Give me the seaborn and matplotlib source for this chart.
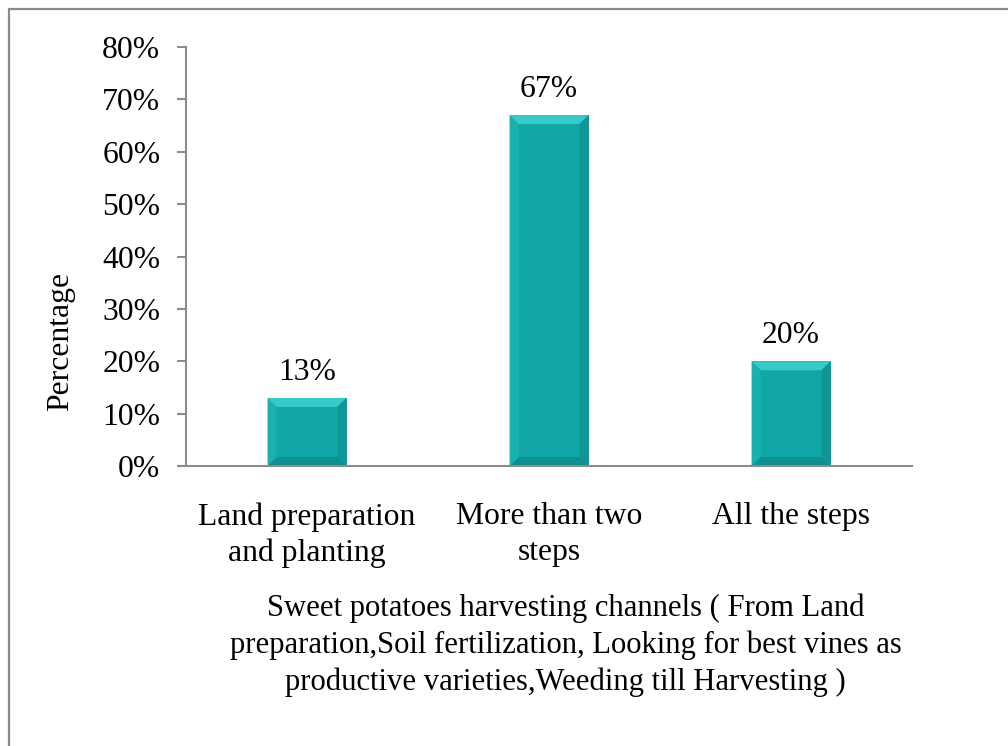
import matplotlib
matplotlib.use("Agg")
import matplotlib.pyplot as plt
import seaborn as sns
import pandas as pd
from matplotlib.lines import Line2D
from matplotlib.patches import Polygon
from matplotlib.ticker import FuncFormatter

categories = ["Land preparation\nand planting", "More than two\nsteps", "All the steps"]
values = [13, 67, 20]
value_labels = ["13%", "67%", "20%"]
y_ticks = [0, 10, 20, 30, 40, 50, 60, 70, 80]

sns.set_theme(style="white")
plt.rcParams["font.family"] = ["Liberation Serif", "DejaVu Serif"]

FS = 22.8

df = pd.DataFrame({"category": categories, "value": values})

fig = plt.figure(figsize=(10.08, 7.46), dpi=100)
ax = fig.add_axes([0.1845, 0.3753, 0.9048 - 0.1845, 0.937 - 0.3753])

face = "#12A7A7"
sns.barplot(data=df, x="category", y="value", color=face, width=0.326,
            saturation=1, ax=ax, edgecolor="#0E8C8C", linewidth=0.6)

ax.set_ylim(0, 80)
ax.set_xlim(-0.5, 2.5)
ax.set_yticks(y_ticks)
ax.yaxis.set_major_formatter(FuncFormatter(lambda v, _: f"{int(v)}%"))

# bevelled bar faces
fig.canvas.draw()
to_data = ax.transData.inverted()
bevel = 9  # pixels
for p in list(ax.patches):
    x0, y0 = p.get_x(), p.get_y()
    x1, y1 = x0 + p.get_width(), y0 + p.get_height()
    (px0, py0) = ax.transData.transform((x0, y0))
    (px1, py1) = ax.transData.transform((x1, y1))
    inner = [(px0 + bevel, py1 - bevel), (px1 - bevel, py1 - bevel),
             (px1 - bevel, py0 + bevel), (px0 + bevel, py0 + bevel)]
    outer = [(px0, py1), (px1, py1), (px1, py0), (px0, py0)]
    faces = [
        ([outer[0], outer[1], inner[1], inner[0]], "#38CACA"),  # top
        ([outer[1], outer[2], inner[2], inner[1]], "#0F9696"),  # right
        ([outer[2], outer[3], inner[3], inner[2]], "#0E9090"),  # bottom
        ([outer[3], outer[0], inner[0], inner[3]], "#19B0B0"),  # left
    ]
    for pts, col in faces:
        poly = Polygon(to_data.transform(pts), closed=True, facecolor=col,
                       edgecolor="none", zorder=p.get_zorder() + 0.1)
        ax.add_patch(poly)

bars = ax.patches[:len(values)]
for p, lab in zip(bars, value_labels):
    ax.annotate(lab, (p.get_x() + p.get_width() / 2, p.get_height()),
                xytext=(0, 8), textcoords="offset points",
                ha="center", va="bottom", fontsize=FS, color="black")

for side in ["top", "right"]:
    ax.spines[side].set_visible(False)
for side in ["left", "bottom"]:
    ax.spines[side].set_color("#8C8C8C")
    ax.spines[side].set_linewidth(1.5)

ax.tick_params(axis="y", which="major", left=True, length=6.5, width=1.5,
               color="#8C8C8C", pad=12, labelsize=FS, labelcolor="black",
               direction="out")
ax.tick_params(axis="x", bottom=False, pad=20, labelsize=FS, labelcolor="black")
for t in ax.get_xticklabels():
    t.set_linespacing(1.3)
ax.set_ylabel("Percentage", fontsize=FS, color="black")
ax.yaxis.set_label_coords(-0.153, 0.298)
ax.set_xlabel("")
ax.grid(False)

fig.text(0.561, 0.135,
         "Sweet potatoes harvesting channels ( From Land\n"
         "preparation,Soil fertilization, Looking for best vines as\n"
         "productive varieties,Weeding till Harvesting )",
         ha="center", va="center", fontsize=22.1, color="black", linespacing=1.35)

# outer frame (top and left edges)
fig.add_artist(Line2D([9 / 1008, 1.0], [1 - 9 / 746, 1 - 9 / 746],
                      transform=fig.transFigure, color="#8A8A8A", lw=1.6))
fig.add_artist(Line2D([9 / 1008, 9 / 1008], [0.0, 1 - 9 / 746],
                      transform=fig.transFigure, color="#8A8A8A", lw=1.6))

fig.savefig("out.png", dpi=100, facecolor="white")
